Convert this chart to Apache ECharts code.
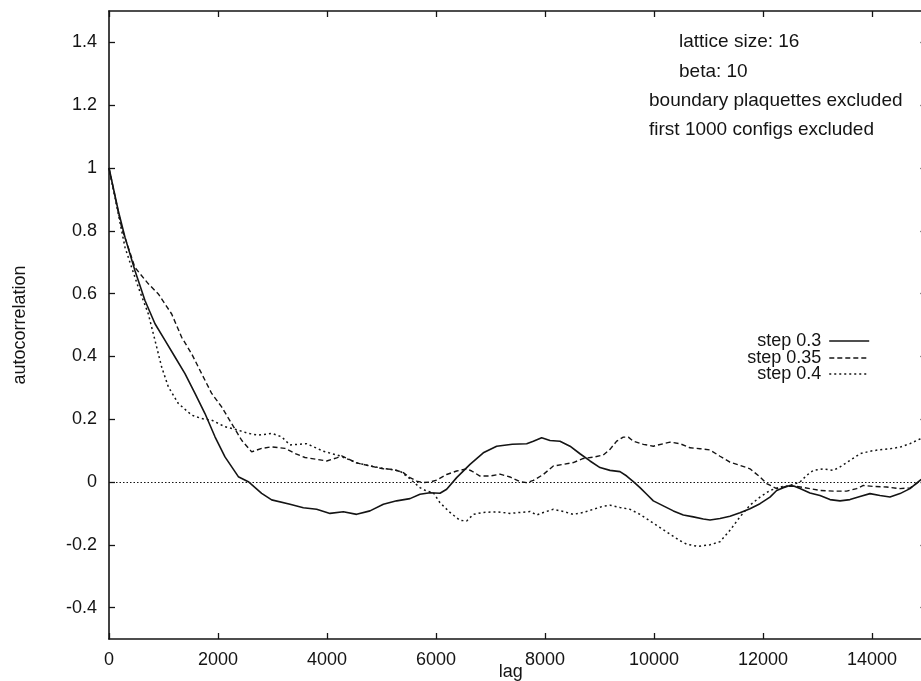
<!DOCTYPE html>
<html>
<head>
<meta charset="utf-8">
<script src="https://cdn.jsdelivr.net/npm/echarts@6/dist/echarts.min.js"></script>
<style>
html,body{margin:0;padding:0;overflow:hidden;background:#fff}
#c{width:940px;height:681px}
</style>
</head>
<body>
<div id="c"></div>
<script>
// ---- data ----
const seriesNames = ['step 0.3', 'step 0.35', 'step 0.4'];

const lag03 = [0,171,294,477,660,844,1028,1211,1394,1578,1761,1945,2128,2373,2556,2801,2985,3321,3566,3810,4055,4300,4544,4789,5034,5278,5523,5706,5890,6073,6196,6379,6624,6868,7113,7400,7664,7786,7939,8092,8275,8459,8642,8826,9009,9193,9376,9499,9621,9743,9866,9988,10171,10355,10538,10722,10905,11028,11211,11394,11578,11761,11945,12128,12251,12373,12495,12587,12679,12862,13046,13229,13413,13596,13780,13963,14147,14330,14514,14697,14881,15000];
const val03 = [1.0,0.863,0.779,0.673,0.578,0.504,0.451,0.398,0.345,0.282,0.218,0.144,0.080,0.017,0.001,-0.036,-0.057,-0.071,-0.082,-0.087,-0.100,-0.095,-0.103,-0.092,-0.071,-0.060,-0.053,-0.039,-0.034,-0.036,-0.023,0.014,0.056,0.093,0.114,0.120,0.122,0.130,0.141,0.132,0.130,0.114,0.090,0.067,0.046,0.037,0.033,0.019,0.001,-0.018,-0.039,-0.060,-0.076,-0.092,-0.105,-0.111,-0.118,-0.121,-0.116,-0.109,-0.098,-0.085,-0.069,-0.048,-0.027,-0.018,-0.011,-0.014,-0.021,-0.035,-0.043,-0.056,-0.060,-0.056,-0.046,-0.037,-0.043,-0.048,-0.037,-0.021,0.005,0.020];

const lag035 = [0,232,477,722,905,1150,1333,1517,1700,1884,2067,2251,2434,2618,2801,2985,3229,3413,3596,3810,3994,4178,4269,4544,4789,5034,5217,5400,5523,5645,5767,5890,6012,6196,6379,6563,6654,6807,6991,7174,7358,7541,7664,7786,7969,8153,8336,8520,8703,8887,9070,9193,9315,9437,9529,9621,9804,9988,10171,10294,10477,10661,10844,11028,11211,11394,11578,11761,11945,12067,12251,12434,12618,12862,13046,13291,13535,13719,13841,14024,14269,14514,14697,14881,15000];
const val035 = [1.0,0.810,0.683,0.631,0.599,0.535,0.461,0.408,0.345,0.282,0.239,0.186,0.133,0.096,0.107,0.112,0.107,0.091,0.078,0.072,0.067,0.077,0.083,0.061,0.051,0.042,0.040,0.030,0.014,0.003,-0.002,0.000,0.006,0.024,0.035,0.042,0.035,0.019,0.019,0.025,0.016,0.001,-0.002,0.005,0.024,0.051,0.056,0.062,0.075,0.079,0.086,0.104,0.130,0.143,0.143,0.130,0.120,0.114,0.122,0.127,0.122,0.109,0.106,0.102,0.082,0.063,0.053,0.042,0.016,-0.005,-0.021,-0.014,-0.014,-0.021,-0.027,-0.029,-0.029,-0.021,-0.011,-0.014,-0.016,-0.021,-0.019,0.003,0.015];

const lag04 = [0,171,294,416,538,722,844,966,1089,1272,1517,1700,1884,2128,2373,2556,2740,2985,3168,3321,3627,3933,4239,4544,4850,5156,5339,5523,5706,5829,5951,6073,6257,6440,6563,6685,6868,7113,7358,7541,7725,7847,7969,8153,8336,8520,8703,8887,9070,9193,9376,9560,9743,9927,10110,10294,10477,10600,10800,11028,11211,11394,11578,11761,11945,12128,12312,12495,12679,12801,12924,13107,13291,13413,13596,13780,13963,14147,14330,14514,14697,14881,15000];
const val04 = [1.0,0.853,0.747,0.683,0.620,0.535,0.451,0.366,0.303,0.250,0.213,0.202,0.197,0.176,0.165,0.155,0.149,0.155,0.144,0.118,0.122,0.098,0.083,0.061,0.049,0.040,0.035,0.010,-0.018,-0.029,-0.034,-0.066,-0.097,-0.122,-0.124,-0.103,-0.097,-0.095,-0.100,-0.097,-0.094,-0.105,-0.097,-0.087,-0.094,-0.103,-0.097,-0.087,-0.077,-0.074,-0.081,-0.087,-0.103,-0.124,-0.145,-0.166,-0.187,-0.198,-0.205,-0.200,-0.190,-0.154,-0.111,-0.074,-0.048,-0.027,-0.016,-0.011,0.000,0.021,0.037,0.042,0.037,0.048,0.069,0.090,0.098,0.103,0.106,0.111,0.122,0.137,0.150];

const xTickValues = [0,2000,4000,6000,8000,10000,12000,14000];
const yTickValues = [-0.4,-0.2,0,0.2,0.4,0.6,0.8,1,1.2,1.4];
const annotLines = ['lattice size: 16','beta: 10','boundary plaquettes excluded','first 1000 configs excluded'];

// ---- chart ----
const FONT = '"Liberation Sans", Arial, Helvetica, sans-serif';
const INK = '#141414';
const zip = (a, b) => a.map((x, i) => [x, b[i]]);

const chart = echarts.init(document.getElementById('c'), null, {renderer: 'canvas'});

const axisLine = {show: true, onZero: false, lineStyle: {color: INK, width: 1.6}};
const tickStyle = {color: INK, width: 1.3};

const lineStyles = [
  {color: INK, width: 1.6, type: 'solid'},
  {color: INK, width: 1.4, type: [5, 3]},
  {color: INK, width: 1.5, type: [2, 3]}
];
const datasets = [zip(lag03, val03), zip(lag035, val035), zip(lag04, val04)];

const series = seriesNames.map((name, i) => ({
  name: name,
  type: 'line',
  data: datasets[i],
  showSymbol: false,
  symbol: 'none',
  smooth: false,
  lineStyle: lineStyles[i],
  itemStyle: {color: INK},
  z: 3,
  markLine: i === 0 ? {
    silent: true,
    symbol: ['none', 'none'],
    label: {show: false},
    lineStyle: {color: INK, width: 1.2, type: [1.5, 2]},
    data: [{yAxis: 0}]
  } : undefined
}));

const legendTops = [332, 349, 365];
const legends = seriesNames.map((name, i) => ({
  data: [name],
  right: 70,
  top: legendTops[i],
  align: 'right',
  orient: 'vertical',
  padding: 0,
  itemWidth: 40,
  itemHeight: 12,
  selectedMode: false,
  itemStyle: {opacity: 0, borderWidth: 0},
  lineStyle: lineStyles[i],
  textStyle: {fontFamily: FONT, fontSize: 18, color: INK, lineHeight: 16, padding: [0, 3, 0, 0]}
}));

const graphics = annotLines.map((t, i) => ({
  type: 'text',
  x: i < 2 ? 679 : 649,
  y: [42, 72, 101, 130][i],
  style: {text: t, font: '19px ' + FONT, fill: INK, verticalAlign: 'middle', align: 'left'}
}));

chart.setOption({
  animation: false,
  backgroundColor: '#ffffff',
  grid: {left: 109, right: 13.5, top: 11, bottom: 42, containLabel: false, outerBoundsMode: 'none'},
  legend: legends,
  graphic: graphics,
  xAxis: [{
    type: 'value', position: 'bottom', min: 0, max: 15000,
    axisLine: axisLine,
    axisTick: {show: true, inside: true, length: 6, lineStyle: tickStyle, customValues: xTickValues},
    axisLabel: {show: true, customValues: xTickValues, fontFamily: FONT, fontSize: 18, color: INK, margin: 12,
      formatter: v => String(v)},
    splitLine: {show: false},
    name: 'lag', nameLocation: 'middle', nameGap: 24, nameMoveOverlap: false,
    nameTextStyle: {fontFamily: FONT, fontSize: 18, color: INK, padding: [0, 14, 0, 0]}
  }, {
    type: 'value', position: 'top', min: 0, max: 15000,
    axisLine: axisLine,
    axisTick: {show: true, inside: true, length: 6, lineStyle: tickStyle, customValues: xTickValues},
    axisLabel: {show: false},
    splitLine: {show: false}
  }],
  yAxis: [{
    type: 'value', position: 'left', min: -0.5, max: 1.5,
    axisLine: axisLine,
    axisTick: {show: true, inside: true, length: 6, lineStyle: tickStyle, customValues: yTickValues},
    axisLabel: {show: true, customValues: yTickValues, fontFamily: FONT, fontSize: 18, color: INK, margin: 12,
      formatter: v => String(Math.round(v * 10) / 10)},
    splitLine: {show: false},
    name: 'autocorrelation', nameLocation: 'middle', nameRotate: 90, nameGap: 80, nameMoveOverlap: false,
    nameTextStyle: {fontFamily: FONT, fontSize: 18, color: INK}
  }, {
    type: 'value', position: 'right', min: -0.5, max: 1.5,
    axisLine: axisLine,
    axisTick: {show: true, inside: true, length: 6, lineStyle: tickStyle, customValues: yTickValues},
    axisLabel: {show: false},
    splitLine: {show: false}
  }],
  series: series
});
</script>
</body>
</html>
